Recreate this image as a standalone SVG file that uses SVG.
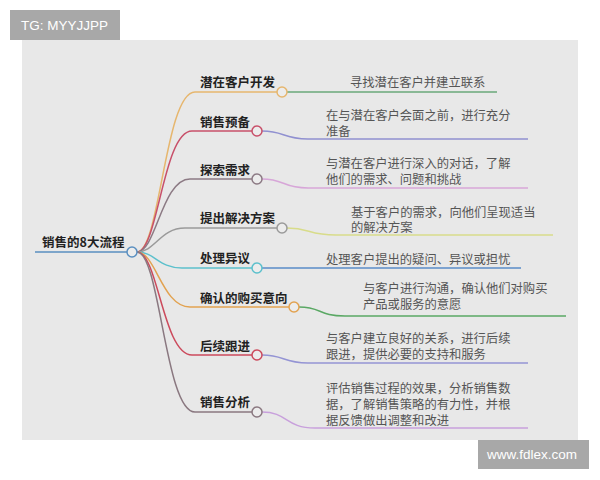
<svg xmlns="http://www.w3.org/2000/svg" width="600" height="480" viewBox="0 0 600 480">
<style>
.lbl{font-family:"Noto Sans CJK SC","Noto Sans",sans-serif;font-size:12.5px;font-weight:bold;fill:#222}
.desc{font-family:"Noto Sans CJK SC","Noto Sans",sans-serif;font-size:12.3px;fill:#555}
.wm{font-family:"Liberation Sans","DejaVu Sans",sans-serif;font-size:13.5px;fill:#fff}
.c path{fill:none;stroke-width:1.5}
.dot{fill:#ececec;stroke-width:1.5}
</style>
<rect x="0" y="0" width="600" height="480" fill="#fff"/>
<rect x="22" y="40" width="556" height="400" fill="#e8e8e8"/>
<g id="tg"><rect x="10" y="10" width="110" height="30" fill="#a8a8a8"/><text class="wm" x="21" y="30">TG: MYYJJPP</text></g>
<g class="c" id="connectors">
<path d="M35,252 L127,252" stroke="#5a8fc0" stroke-width="2"/>
<path d="M137,252 C160,252 165,92 195,92 L277,92" stroke="#e6b66e"/>
<path d="M137,252 C158,252 163,131 192,131 L252,131" stroke="#c8506a"/>
<path d="M137,252 C156,252 162,179 190,179 L252,179" stroke="#8c7a84"/>
<path d="M137,252 C155,252 160,228 185,228 L277,228" stroke="#9a9a9a"/>
<path d="M137,252 C155,252 158,268 182,268 L252,268" stroke="#5cc0cc"/>
<path d="M137,252 C156,252 162,307 190,307 L289,307" stroke="#e2a250"/>
<path d="M137,252 C158,252 163,355 192,355 L252,355" stroke="#cc4a5c"/>
<path d="M137,252 C160,252 165,412 195,412 L252,412" stroke="#8a7880"/>
<path d="M287,92 L497,92" stroke="#6aa87a"/>
<path d="M262,131 C285,131 282,139 308,139 L528,139" stroke="#9090d0"/>
<path d="M262,179 C285,179 282,188 308,188 L528,188" stroke="#d7a6d8"/>
<path d="M287,228 C310,228 308,235 336,235 L553,235" stroke="#d8dc8a"/>
<path d="M262,268 L521,268" stroke="#5a8cc8"/>
<path d="M299,307 C322,307 318,316 345,316 L566,316" stroke="#5aa864"/>
<path d="M262,355 C285,355 282,363 308,363 L528,363" stroke="#9494d4"/>
<path d="M262,412 C288,412 285,428 315,428 L528,428" stroke="#c8a0dc"/>
</g>
<g id="root"><circle class="dot" cx="132" cy="252" r="5" stroke="#5a8fc0"/><text class="lbl" x="42" y="247">销售的8大流程</text></g>
<g id="n1"><circle class="dot" cx="282" cy="92" r="5" stroke="#e6b66e"/><text class="lbl" x="200" y="87">潜在客户开发</text><text class="desc" x="350" y="87">寻找潜在客户并建立联系</text></g>
<g id="n2"><circle class="dot" cx="257" cy="131" r="5" stroke="#c8506a"/><text class="lbl" x="200" y="127">销售预备</text><text class="desc" x="326" y="120">在与潜在客户会面之前，进行充分</text><text class="desc" x="326" y="136">准备</text></g>
<g id="n3"><circle class="dot" cx="257" cy="179" r="5" stroke="#8c7a84"/><text class="lbl" x="200" y="175">探索需求</text><text class="desc" x="326" y="168">与潜在客户进行深入的对话，了解</text><text class="desc" x="326" y="184">他们的需求、问题和挑战</text></g>
<g id="n4"><circle class="dot" cx="282" cy="228" r="5" stroke="#9a9a9a"/><text class="lbl" x="200" y="223">提出解决方案</text><text class="desc" x="351" y="217">基于客户的需求，向他们呈现适当</text><text class="desc" x="351" y="232">的解决方案</text></g>
<g id="n5"><circle class="dot" cx="257" cy="268" r="5" stroke="#5cc0cc"/><text class="lbl" x="200" y="263">处理异议</text><text class="desc" x="326" y="264">处理客户提出的疑问、异议或担忧</text></g>
<g id="n6"><circle class="dot" cx="294" cy="307" r="5" stroke="#e2a250"/><text class="lbl" x="200" y="303">确认的购买意向</text><text class="desc" x="363" y="293">与客户进行沟通，确认他们对购买</text><text class="desc" x="363" y="309">产品或服务的意愿</text></g>
<g id="n7"><circle class="dot" cx="257" cy="355" r="5" stroke="#cc4a5c"/><text class="lbl" x="200" y="351">后续跟进</text><text class="desc" x="326" y="343">与客户建立良好的关系，进行后续</text><text class="desc" x="326" y="359">跟进，提供必要的支持和服务</text></g>
<g id="n8"><circle class="dot" cx="257" cy="412" r="5" stroke="#8a7880"/><text class="lbl" x="200" y="407">销售分析</text><text class="desc" x="326" y="393">评估销售过程的效果，分析销售数</text><text class="desc" x="326" y="409">据，了解销售策略的有力性，并根</text><text class="desc" x="326" y="425">据反馈做出调整和改进</text></g>
<g id="wm2"><rect x="478" y="440" width="111" height="29" fill="#a8a8a8"/><text class="wm" x="487" y="459">www.fdlex.com</text></g>
</svg>
